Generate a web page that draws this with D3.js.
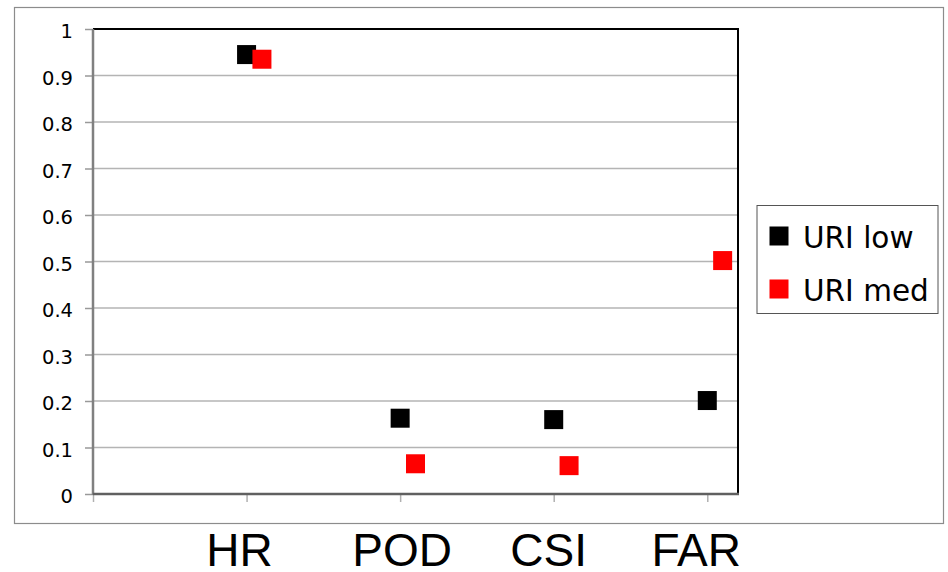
<!DOCTYPE html>
<html>
<head>
<meta charset="utf-8">
<script src="https://cdn.jsdelivr.net/npm/d3@7/dist/d3.min.js"></script>
<style>
  html, body { margin: 0; padding: 0; background: #fff; }
  svg { display: block; }
</style>
</head>
<body>
<svg id="chart" width="948" height="572"></svg>
<script>
// Verification scores for two URI thresholds
const categories = ["HR", "POD", "CSI", "FAR"];
const categoryX = [1, 2, 3, 4];
const seriesNames = ["URI low", "URI med"];
const seriesColors = ["#000000", "#ff0000"];
const seriesOffsets = [0, 0.1];
const uriLow = [0.945, 0.163, 0.160, 0.201];
const uriMed = [0.935, 0.065, 0.061, 0.502];
const yTicks = [0, 0.1, 0.2, 0.3, 0.4, 0.5, 0.6, 0.7, 0.8, 0.9, 1];
const xTicks = [0, 1, 2, 3, 4];

const svg = d3.select("#chart");

const plot = { left: 93, right: 738, top: 29, bottom: 494 };
const x = d3.scaleLinear().domain([0, 4.2]).range([plot.left, plot.right]);
const y = d3.scaleLinear().domain([0, 1]).range([plot.bottom, plot.top]);

// outer chart frame
svg.append("rect")
  .attr("x", 14.5).attr("y", 7.5)
  .attr("width", 929).attr("height", 516)
  .attr("fill", "#fff").attr("stroke", "#8c8c8c").attr("stroke-width", 1.2);

// horizontal gridlines
svg.append("g")
  .selectAll("line")
  .data(yTicks.filter(d => d > 0 && d < 1))
  .join("line")
  .attr("x1", plot.left).attr("x2", plot.right)
  .attr("y1", d => y(d)).attr("y2", d => y(d))
  .attr("stroke", "#b4b4b4").attr("stroke-width", 1.5);

// y axis
const yAxis = d3.axisLeft(y).tickValues(yTicks).tickSize(8).tickPadding(12)
  .tickFormat(d => d === 0 || d === 1 ? d3.format("d")(d) : d3.format(".1f")(d));
const gy = svg.append("g").attr("transform", `translate(${plot.left},0)`).call(yAxis);
gy.select(".domain").remove();
gy.selectAll(".tick line").attr("stroke", "#999").attr("stroke-width", 1.5);
gy.selectAll(".tick text")
  .attr("fill", "#000")
  .style("font-family", "'DejaVu Sans', sans-serif")
  .style("font-size", "19.5px")
  .attr("dy", "0.45em");

// x axis ticks (labels are drawn separately below the frame)
const xAxis = d3.axisBottom(x).tickValues(xTicks).tickSize(8).tickFormat("");
const gx = svg.append("g").attr("transform", `translate(0,${plot.bottom})`).call(xAxis);
gx.select(".domain").remove();
gx.selectAll(".tick line").attr("stroke", "#b0b0b0").attr("stroke-width", 1.5);

// plot area border: top/right black, left/bottom gray
svg.append("line")
  .attr("x1", plot.left).attr("x2", plot.right + 1)
  .attr("y1", plot.top).attr("y2", plot.top)
  .attr("stroke", "#000").attr("stroke-width", 2);
svg.append("line")
  .attr("x1", plot.right).attr("x2", plot.right)
  .attr("y1", plot.top).attr("y2", plot.bottom)
  .attr("stroke", "#000").attr("stroke-width", 2);
svg.append("line")
  .attr("x1", plot.left).attr("x2", plot.left)
  .attr("y1", plot.top).attr("y2", plot.bottom + 1)
  .attr("stroke", "#808080").attr("stroke-width", 2.5);
svg.append("line")
  .attr("x1", plot.left).attr("x2", plot.right + 1)
  .attr("y1", plot.bottom).attr("y2", plot.bottom)
  .attr("stroke", "#606060").attr("stroke-width", 2.5);

// square markers
const markerSize = 19;
const seriesData = [uriLow, uriMed];
seriesData.forEach((vals, si) => {
  svg.append("g")
    .selectAll("rect")
    .data(vals.map((v, i) => ({ x: categoryX[i] + seriesOffsets[si], v })))
    .join("rect")
    .attr("x", d => x(d.x) - markerSize / 2)
    .attr("y", d => y(d.v) - markerSize / 2)
    .attr("width", markerSize).attr("height", markerSize)
    .attr("fill", seriesColors[si]);
});

// legend
const legend = svg.append("g");
legend.append("rect")
  .attr("x", 757).attr("y", 205.5)
  .attr("width", 181).attr("height", 108)
  .attr("fill", "#fff").attr("stroke", "#555").attr("stroke-width", 1);
seriesNames.forEach((name, i) => {
  const cy = 236 + i * 53;
  legend.append("rect")
    .attr("x", 769.5).attr("y", cy - 9.5)
    .attr("width", 19).attr("height", 19)
    .attr("fill", seriesColors[i]);
  legend.append("text")
    .attr("x", 803).attr("y", cy + 11.5)
    .attr("fill", "#000")
    .style("font-family", "'DejaVu Sans', sans-serif")
    .style("font-size", "29.5px")
    .text(name);
});

// category labels under the frame
const labelCenters = [1, 2, 3, 4];
svg.append("g")
  .selectAll("text")
  .data(categories)
  .join("text")
  .attr("x", (d, i) => x(labelCenters[i]) + [-7, 2, -5, -11][i])
  .attr("y", 566)
  .attr("text-anchor", "middle")
  .attr("fill", "#000")
  .style("font-family", "'Liberation Sans', Arial, sans-serif")
  .style("font-size", "46px")
  .text(d => d);
</script>
</body>
</html>
